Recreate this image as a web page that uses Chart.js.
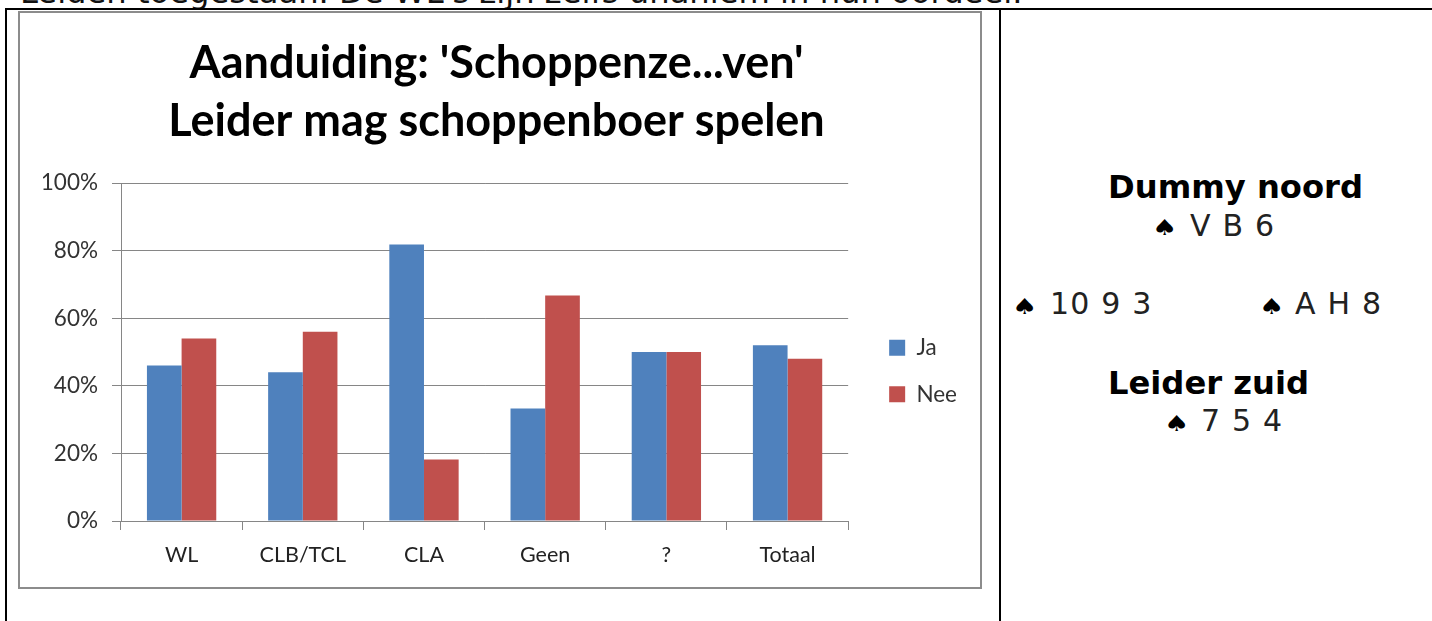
<!DOCTYPE html>
<html><head><meta charset="utf-8">
<style>
html,body{margin:0;padding:0;background:#fff;overflow:hidden;width:1432px;height:621px}
.t{position:absolute;white-space:pre;font-family:"DejaVu Sans",sans-serif;color:#111;line-height:1}
.b{font-weight:bold;font-size:32.2px;color:#000}
.n{font-size:30px;letter-spacing:1.2px;color:#222}
.s{font-size:22px;color:#000;transform:scale(1.3,1);transform-origin:left center}
.line{position:absolute;background:#000}
#wrap{position:absolute;left:18px;top:11px;width:960px;height:574px;border:2px solid #8c8c8c}
</style></head><body>
<div class="t" style="left:20px;top:-24px;font-size:32.2px">Leiden toegestaan. De WL's zijn zelfs unaniem in hun oordeel.</div>
<div class="line" style="left:5px;top:8px;width:1427px;height:2px"></div>
<div class="line" style="left:5px;top:8px;width:2px;height:613px"></div>
<div class="line" style="left:999px;top:8px;width:2px;height:613px"></div>
<div id="wrap"><canvas id="c" width="960" height="574" style="display:block"></canvas></div>
<div class="t b" style="left:1108px;top:171px">Dummy noord</div>
<div class="t s" style="left:1152px;top:217px">♠</div>
<div class="t n" style="left:1190px;top:211px">V B 6</div>
<div class="t s" style="left:1012px;top:296px">♠</div>
<div class="t n" style="left:1050px;top:289px">10 9 3</div>
<div class="t s" style="left:1259px;top:296px">♠</div>
<div class="t n" style="left:1295px;top:289px">A H 8</div>
<div class="t b" style="left:1108px;top:367px">Leider zuid</div>
<div class="t s" style="left:1164px;top:413px">♠</div>
<div class="t n" style="left:1201px;top:406px">7 5 4</div>
<script src="https://cdn.jsdelivr.net/npm/chart.js@4"></script>
<script>
const categories=["WL","CLB/TCL","CLA","Geen","?","Totaal"];
const ja=[46,44,81.8,33.3,50,52];
const nee=[54,56,18.2,66.7,50,48];
const titleLines=["Aanduiding: 'Schoppenze...ven'","Leider mag schoppenboer spelen"];
const axisColor="#868686";
const legendShift={
 id:"legendShift",
 afterLayout(chart){
  const l=chart.legend;
  l.left+=17;l.right+=17;l.top+=80;l.bottom+=80;
 }
};
new Chart(document.getElementById("c"),{
 type:"bar",
 plugins:[legendShift],
 data:{labels:categories,datasets:[
  {label:"Ja",data:ja,backgroundColor:"#4f81bd",barPercentage:1,categoryPercentage:0.572},
  {label:"Nee",data:nee,backgroundColor:"#c0504d",barPercentage:1,categoryPercentage:0.572}
 ]},
 options:{
  responsive:false,animation:false,
  layout:{padding:{left:23,right:30,top:0,bottom:18}},
  plugins:{
   title:{display:true,text:titleLines,color:"#000",font:{family:"Lato",size:45,weight:"bold",lineHeight:1.29},padding:{top:21,bottom:33}},
   legend:{position:"right",align:"center",labels:{boxWidth:16,boxHeight:16,padding:24,color:"#333",font:{family:"Lato",size:22.5}}},
   tooltip:{enabled:false}
  },
  scales:{
   x:{afterFit(s){s.height=48},grid:{drawOnChartArea:false,drawTicks:true,tickLength:9,color:axisColor},border:{color:axisColor},
      ticks:{color:"#222",font:{family:"Lato",size:21.5},padding:12,maxRotation:0}},
   y:{afterFit(s){s.width=78},min:0,max:100,grid:{color:axisColor,tickLength:9},border:{color:axisColor},
      ticks:{stepSize:20,color:"#333",font:{family:"Lato",size:22.5},padding:14,callback:v=>v+"%"}}
  }
 }
});
</script>
</body></html>
